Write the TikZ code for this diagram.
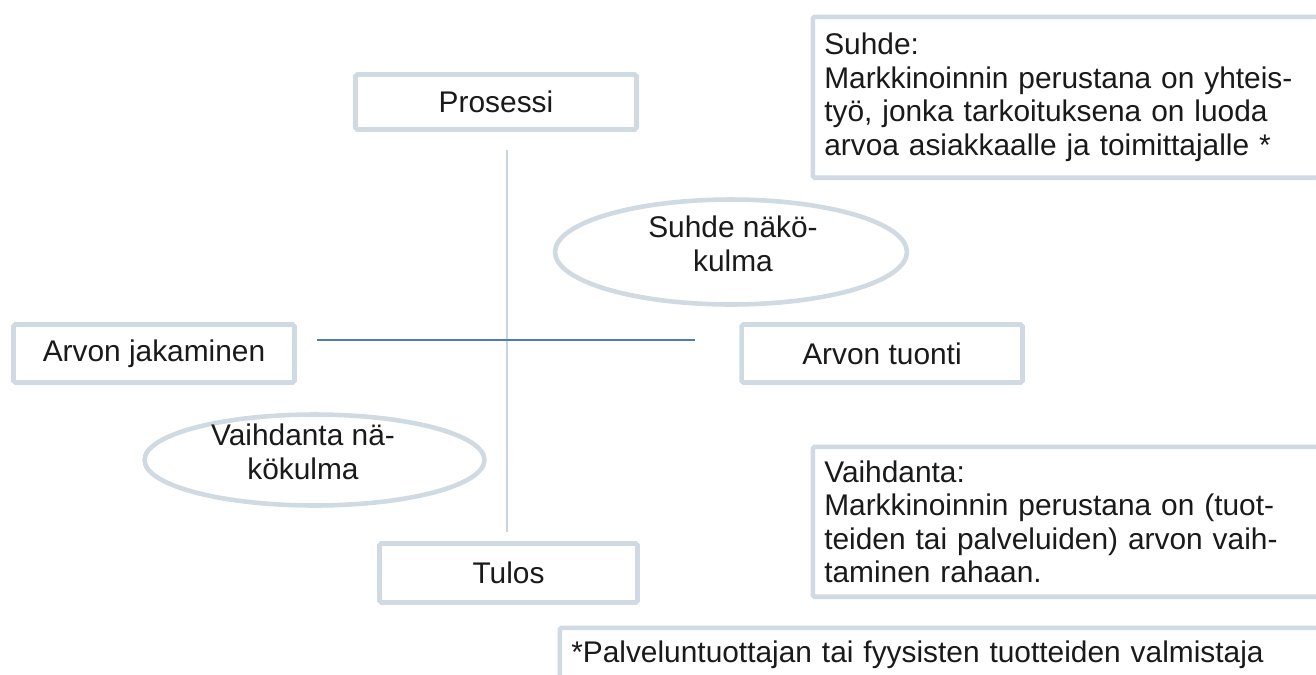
\documentclass[tikz,border=0pt]{standalone}
\usepackage{fontspec}
\setmainfont{Liberation Sans}
\usepackage{tikz}
\usetikzlibrary{shapes.geometric}

\definecolor{boxgray}{HTML}{CFDAE2}
\definecolor{axisgray}{HTML}{C9D4DC}
\definecolor{axisblue}{HTML}{4A7EBB}
\definecolor{textblack}{HTML}{1A1A1A}

\begin{document}
\begin{tikzpicture}[x=0.02cm, y=-0.02cm,
		font=\fontsize{17}{19}\selectfont, text=textblack,
		box/.style={draw=boxgray, line width=2.6pt, rounded corners=1pt, fill=white, inner sep=0pt},
		oval/.style={ellipse, draw=boxgray, line width=2.6pt, fill=white, inner sep=0pt},
		note/.style={box, align=left, anchor=north west, inner xsep=0.23cm}]
			\useasboundingbox (0,0) rectangle (1316,674);
			\clip (0,0) rectangle (1316,674);
			%\draw[step=100,gray,very thin] (0,0) grid (1316,674);
			
			% the cross
			\coordinate (vtop) at (507,150);
			\coordinate (vbot) at (507,532);
			\coordinate (hleft) at (317,340);
			\coordinate (hright) at (695,340);
			\draw[axisgray, line width=1.2pt] (vtop) -- (vbot);
			\draw[axisblue, line width=1.1pt] (hleft) -- (hright);
			
			\node[box, minimum width=5.62cm, minimum height=1.1cm] (prosessi) at (496,102) {Prosessi};
			\node[box, minimum width=5.16cm, minimum height=1.18cm] (tulos) at (508.5,573) {Tulos};
			\node[box, minimum width=5.62cm, minimum height=1.16cm] (jakaminen) at (154,353.5) {Arvon jakaminen};
			\node[box, minimum width=5.62cm, minimum height=1.16cm] (tuonti) at (882,353.5) {Arvon tuonti};
			
			\node[oval, minimum width=7.04cm, minimum height=2.1cm] (suhdeoval) at (731,252) {};
			\node[align=center] (suhdetext) at (733,244) {Suhde näkö-\\kulma};
			\node[oval, minimum width=6.8cm, minimum height=1.82cm] (vaihdantaoval) at (314.5,460) {};
			\node[align=center] (vaihdantatext) at (303,452) {Vaihdanta nä-\\kökulma};
			
			\node[note, text width=10.14cm, minimum height=3.22cm] (suhdebox) at (810.5,14.5)
				{Suhde:\\Markkinoinnin perustana on yhteis-\\työ, jonka tarkoituksena on luoda\\arvoa asiakkaalle ja toimittajalle *};
			\node[note, text width=10.14cm, minimum height=3cm] (vaihdantabox) at (810.5,444.5)
				{Vaihdanta:\\Markkinoinnin perustana on (tuot-\\teiden tai palveluiden) arvon vaih-\\taminen rahaan.};
			\node[note, text width=15.2cm, minimum height=1.06cm] (tahtibox) at (557.5,625.5)
				{*Palveluntuottajan tai fyysisten tuotteiden valmistaja};
		\end{tikzpicture}
\end{document}
